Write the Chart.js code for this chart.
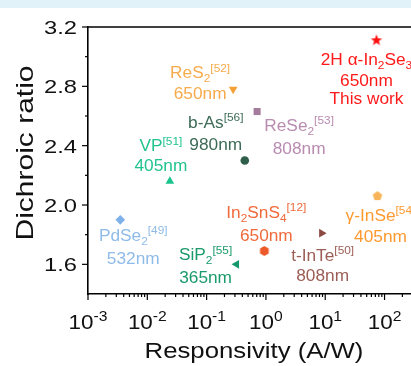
<!DOCTYPE html>
<html>
<head>
<meta charset="utf-8">
<script src="https://cdn.jsdelivr.net/npm/chart.js@4"></script>
<style>
  html, body { margin: 0; padding: 0; background: #fff; overflow: hidden; }
</style>
</head>
<body>
<canvas id="dichroicChart" width="440" height="366"></canvas>
<script>
// data
const materials = ['2H α-In_2Se_3', 'ReS_2', 'ReSe_2', 'b-As', 'VP', 'PdSe_2', 'SiP_2', 'In_2SnS_4', 't-InTe', 'γ-InSe'];
const refs = ['', '52', '53', '56', '51', '49', '55', '12', '50', '54'];
const wavelengths = [650, 650, 808, 980, 405, 532, 365, 650, 808, 405];
const notes = ['This work', '', '', '', '', '', '', '', '', ''];
const responsivity = [73, 0.28, 0.71, 0.44, 0.024, 0.0035, 0.32, 0.94, 8.7, 76];
const dichroic = [3.11, 2.78, 2.63, 2.30, 2.16, 1.90, 1.60, 1.69, 1.81, 2.06];

const xTickExps = [-3, -2, -1, 0, 1, 2];
const yTicks = [1.6, 2.0, 2.4, 2.8, 3.2];
const yMinorTicks = [1.8, 2.2, 2.6, 3.0];

// styling
const markerColors = ['#ff1010', '#f5a035', '#a57c9c', '#2f5f4a', '#19c58c', '#7eb1ea', '#14986a', '#ec5a2a', '#8d4a42', '#f8b458'];
const textColors = ['#ff1a1a', '#f7ab4c', '#b98bb0', '#3d6b57', '#22c38f', '#8fbbe8', '#1b9a6c', '#f06a3c', '#9c5d55', '#ff9a30'];
const shapes = ['star', 'triangle', 'rect', 'circle', 'triangle', 'rectRot', 'triangle', 'hexagon', 'triangle', 'pentagon'];
const rotations = [0, 180, 0, 0, 0, 0, 270, 0, 90, 0];
const radii = [6, 5, 5, 4.3, 5, 4.8, 5, 5, 5, 5];
const labelPos = [
    {dx: -10, dy: [25, 46, 64]},
    {dx: -33, dy: [-11, 10]},
    {dx: 42, dy: [19, 42]},
    {dx: -29, dy: [-33, -11]},
    {dx: -9, dy: [-30, -10]},
    {dx: 13, dy: [21, 44]},
    {dx: -31, dy: [-4, 19]},
    {dx: 2, dy: [-33, -10]},
    {dx: 1, dy: [28, 48]},
    {dx: 3, dy: [25, 46]}
];

const FONT = "'Liberation Sans', Arial, sans-serif";

function makeMarker(shape, color, r) {
    const c = document.createElement('canvas');
    const s = Math.ceil(r * 2 + 2);
    c.width = s; c.height = s;
    const g = c.getContext('2d');
    g.fillStyle = color;
    g.translate(s / 2, s / 2);
    g.beginPath();
    if (shape === 'star') {
        for (let i = 0; i < 10; i++) {
            const a = -Math.PI / 2 + i * Math.PI / 5;
            const rr = i % 2 ? r * 0.42 : r;
            g.lineTo(rr * Math.cos(a), rr * Math.sin(a));
        }
    } else {
        const n = shape === 'pentagon' ? 5 : 6;
        for (let i = 0; i < n; i++) {
            const a = -Math.PI / 2 + i * 2 * Math.PI / n;
            g.lineTo(r * Math.cos(a), r * Math.sin(a));
        }
    }
    g.closePath();
    g.fill();
    return c;
}

const pointStyles = shapes.map((s, i) =>
    ['star', 'pentagon', 'hexagon'].includes(s) ? makeMarker(s, markerColors[i], radii[i]) : s);

function parseRich(str, sup) {
    const segs = [];
    str.split(/_(\d)/).forEach((p, i) => { if (p) segs.push({t: p, k: i % 2 ? 'sub' : 'n'}); });
    if (sup) segs.push({t: '[' + sup + ']', k: 'sup'});
    return segs;
}

// draws normal / sub / sup segments centred on cx, stretched horizontally by sx
function drawRich(ctx, segs, cx, base, size, color, sx, supRaise) {
    const small = Math.round(size * 0.7);
    const raise = supRaise || size * 0.42;
    ctx.save();
    ctx.fillStyle = color;
    ctx.textAlign = 'left';
    ctx.textBaseline = 'alphabetic';
    let w = 0;
    segs.forEach(s => {
        ctx.font = (s.k === 'n' ? size : small) + 'px ' + FONT;
        s.w = ctx.measureText(s.t).width;
        w += s.w;
    });
    ctx.translate(cx, base);
    ctx.scale(sx, 1);
    let x = -w / 2;
    segs.forEach(s => {
        ctx.font = (s.k === 'n' ? size : small) + 'px ' + FONT;
        const dy = s.k === 'sub' ? size * 0.25 : (s.k === 'sup' ? -raise : 0);
        ctx.fillText(s.t, x, dy);
        x += s.w;
    });
    ctx.restore();
}

const overlay = {
    id: 'overlay',
    beforeDraw(chart) {
        const ctx = chart.ctx;
        ctx.save();
        ctx.fillStyle = '#e1f2f9';
        ctx.fillRect(0, 0, chart.width, 8);
        ctx.restore();
    },
    afterDraw(chart) {
        const ctx = chart.ctx;
        const xs = chart.scales.x, ys = chart.scales.y;
        const a = chart.chartArea;
        ctx.save();
        ctx.strokeStyle = '#000';
        ctx.lineWidth = 1.6;
        // top frame line
        ctx.beginPath();
        ctx.moveTo(a.left, a.top);
        ctx.lineTo(a.right, a.top);
        ctx.stroke();

        // x ticks (log major + minor)
        ctx.lineWidth = 1.2;
        xTickExps.forEach(e => {
            for (let m = 1; m < 10; m++) {
                const v = m * Math.pow(10, e);
                if (v > xs.max) break;
                const px = xs.getPixelForValue(v);
                ctx.beginPath();
                ctx.moveTo(px, a.bottom);
                ctx.lineTo(px, a.bottom + (m === 1 ? 6 : 3));
                ctx.stroke();
            }
        });
        // y ticks
        yTicks.concat(yMinorTicks).forEach(v => {
            const py = ys.getPixelForValue(v);
            ctx.beginPath();
            ctx.moveTo(a.left, py);
            ctx.lineTo(a.left - (yTicks.includes(v) ? 6 : 3), py);
            ctx.stroke();
        });

        ctx.fillStyle = '#111';
        // y tick labels
        yTicks.forEach(v => {
            const py = ys.getPixelForValue(v);
            ctx.save();
            ctx.font = '19px ' + FONT;
            ctx.textAlign = 'right';
            ctx.textBaseline = 'alphabetic';
            ctx.translate(77, py + 7);
            ctx.scale(1.25, 1);
            ctx.fillText(v.toFixed(1), 0, 0);
            ctx.restore();
        });
        // x tick labels 10^n
        xTickExps.forEach(e => {
            const px = xs.getPixelForValue(Math.pow(10, e));
            drawRich(ctx, [{t: '10', k: 'n'}, {t: String(e), k: 'sup'}], px, 329, 20, '#111', 1.12, 8);
        });
        // axis titles
        drawRich(ctx, [{t: 'Responsivity (A/W)', k: 'n'}], 254, 358, 22, '#111', 1.17);
        ctx.save();
        ctx.translate(33, 153);
        ctx.rotate(-Math.PI / 2);
        drawRich(ctx, [{t: 'Dichroic ratio', k: 'n'}], 0, 0, 24, '#111', 1.25);
        ctx.restore();

        // point annotations
        materials.forEach((m, i) => {
            const px = xs.getPixelForValue(responsivity[i]);
            const py = ys.getPixelForValue(dichroic[i]);
            const lines = [parseRich(m, refs[i]), [{t: wavelengths[i] + 'nm', k: 'n'}]];
            if (notes[i]) lines.push([{t: notes[i], k: 'n'}]);
            lines.forEach((segs, j) => {
                drawRich(ctx, segs, px + labelPos[i].dx, py + labelPos[i].dy[j], 16, textColors[i], 1.08);
            });
        });
        ctx.restore();
    }
};

const ctx = document.getElementById('dichroicChart').getContext('2d');
new Chart(ctx, {
    type: 'scatter',
    data: {
        labels: materials,
        datasets: [{
            data: responsivity.map((r, i) => ({x: r, y: dichroic[i]})),
            pointStyle: pointStyles,
            pointRotation: rotations,
            pointRadius: radii,
            pointHoverRadius: radii,
            backgroundColor: markerColors,
            borderColor: markerColors,
            borderWidth: 0
        }]
    },
    options: {
        responsive: false,
        animation: false,
        events: [],
        layout: {padding: {top: 27, right: 14, left: 0, bottom: 0}},
        plugins: {legend: {display: false}, tooltip: {enabled: false}},
        scales: {
            x: {
                type: 'logarithmic',
                min: 0.001,
                max: 500,
                grid: {display: false},
                ticks: {display: false},
                border: {display: true, color: '#000', width: 1.6},
                afterFit(scale) { scale.height = 72; }
            },
            y: {
                min: 1.4,
                max: 3.2,
                grid: {display: false},
                ticks: {display: false},
                border: {display: true, color: '#000', width: 1.6},
                afterFit(scale) { scale.width = 88; }
            }
        }
    },
    plugins: [overlay]
});
</script>
</body>
</html>
